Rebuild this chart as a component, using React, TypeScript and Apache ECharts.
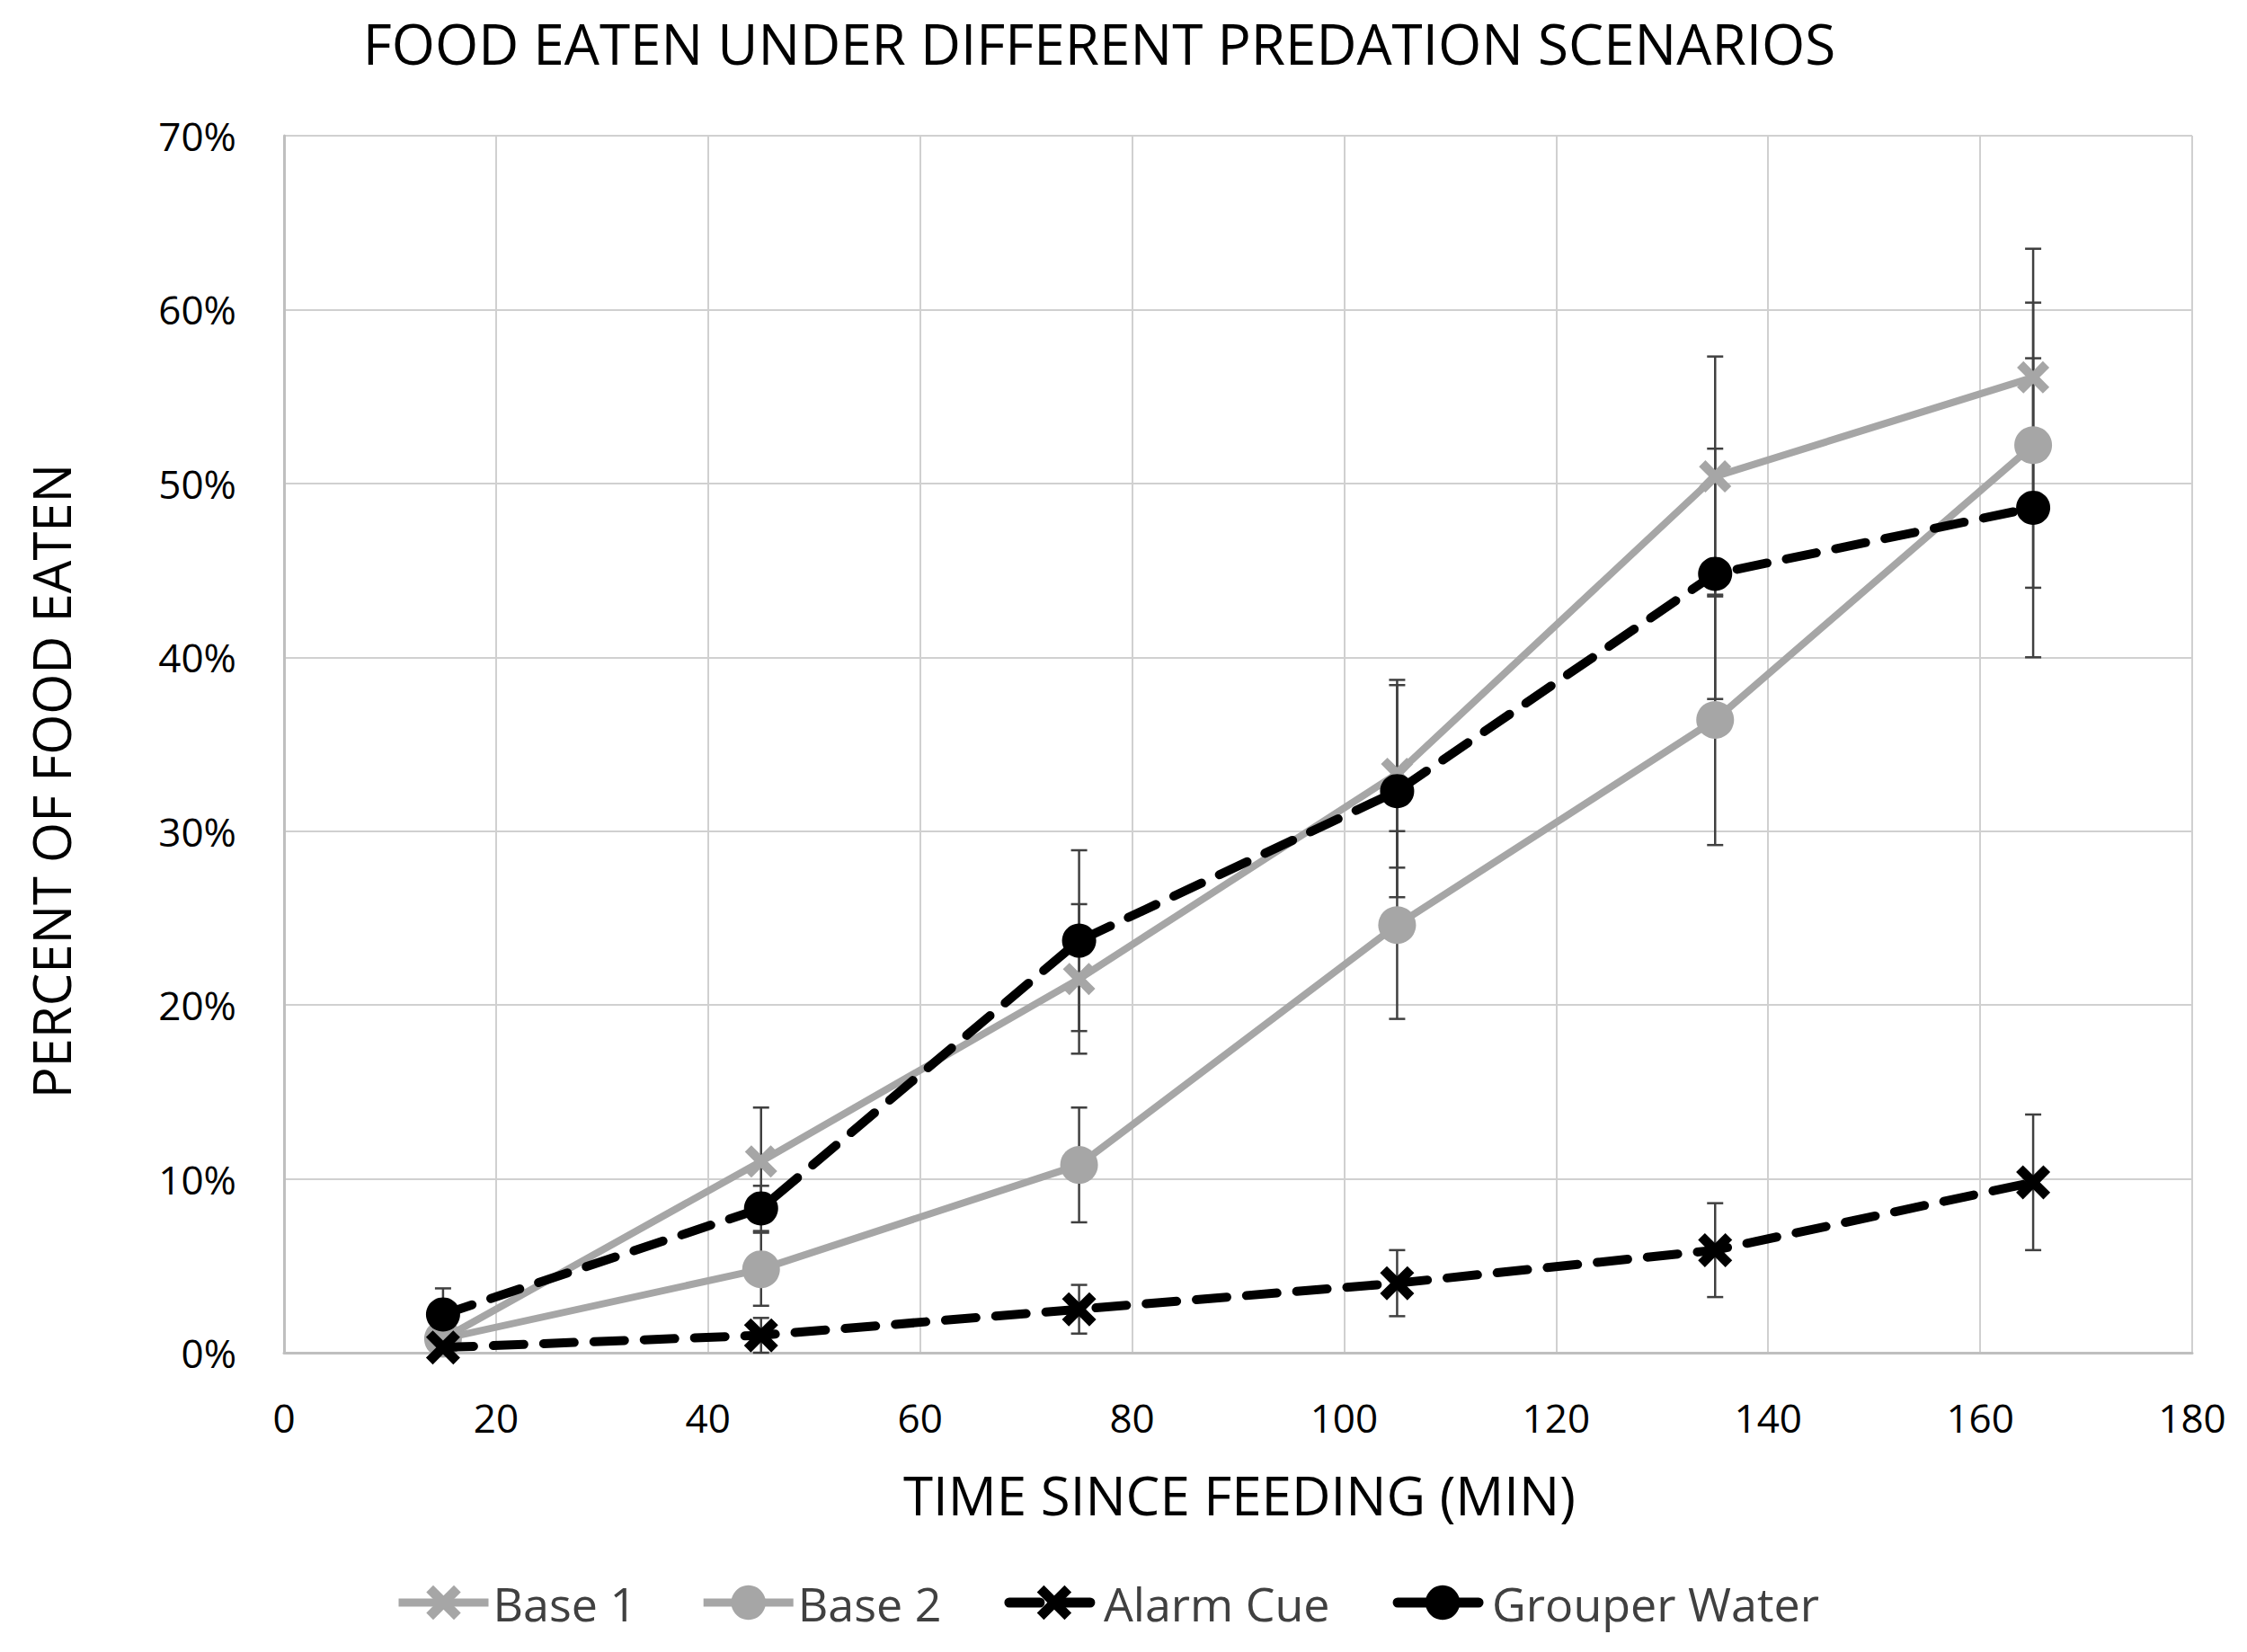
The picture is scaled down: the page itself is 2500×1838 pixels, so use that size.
import React, { useEffect, useRef } from "react";
import * as echarts from "echarts";

const xValues = [15, 45, 75, 105, 135, 165];
const base1 = [0.8, 11.0, 21.5, 33.3, 50.4, 56.1];
const base2 = [0.8, 4.8, 10.8, 24.6, 36.4, 52.2];
const alarm = [0.3, 1.0, 2.5, 4.0, 5.9, 9.8];
const grouper = [2.2, 8.3, 23.7, 32.3, 44.8, 48.6];

const base1Err = [0.5, 3.1, 4.3, 5.4, 6.9, 7.4];
const base2Err = [0.5, 2.1, 3.3, 5.4, 7.2, 8.2];
const alarmErr = [0.3, 1.0, 1.4, 1.9, 2.7, 3.9];
const grouperErr = [1.5, 1.3, 5.2, 6.1, 7.2, 8.6];

const seriesNames = ["Base 1", "Base 2", "Alarm Cue", "Grouper Water"];
const titleText = "FOOD EATEN UNDER DIFFERENT PREDATION SCENARIOS";
const xAxisTitle = "TIME SINCE FEEDING (MIN)";
const yAxisTitle = "PERCENT OF FOOD EATEN";

const GRAY = "#a6a6a6";
const BLACK = "#000000";
const FONT = "Open Sans";
const X_SYMBOL =
  "path://M2,0 L5,3 L8,0 L10,2 L7,5 L10,8 L8,10 L5,7 L2,10 L0,8 L3,5 L0,2 Z";

function errorSeries(vals: number[], errs: number[], z: number) {
  return {
    type: "custom",
    silent: true,
    z,
    data: xValues.map((x, i) => [x, vals[i] - errs[i], vals[i] + errs[i]]),
    renderItem: (_params: any, api: any) => {
      const x = api.value(0);
      const lo = api.coord([x, api.value(1)]);
      const hi = api.coord([x, api.value(2)]);
      const w = 9;
      const st = { stroke: "#404040", lineWidth: 2.5 };
      return {
        type: "group",
        children: [
          { type: "line", shape: { x1: lo[0], y1: lo[1], x2: hi[0], y2: hi[1] }, style: st },
          { type: "line", shape: { x1: lo[0] - w, y1: lo[1], x2: lo[0] + w, y2: lo[1] }, style: st },
          { type: "line", shape: { x1: hi[0] - w, y1: hi[1], x2: hi[0] + w, y2: hi[1] }, style: st },
        ],
      };
    },
  };
}

function pairs(vals: number[]) {
  return xValues.map((x, i) => [x, vals[i]]);
}

export default function App() {
  const ref = useRef<HTMLDivElement>(null);
  useEffect(() => {
    if (!ref.current) return;
    const chart = echarts.init(ref.current, null, { renderer: "svg" });
    const option: any = {
      animation: false,
      backgroundColor: "#ffffff",
      grid: { left: 316, right: 61, top: 151, bottom: 333, containLabel: false },
      xAxis: {
        type: "value",
        min: 0,
        max: 180,
        interval: 20,
        axisLine: { show: true, lineStyle: { color: "#bfbfbf", width: 3 } },
        axisTick: { show: false },
        axisLabel: { color: "#000", fontSize: 44, fontFamily: FONT, margin: 50 },
        splitLine: { show: true, lineStyle: { color: "#d0d0d0", width: 2 } },
      },
      yAxis: {
        type: "value",
        min: 0,
        max: 70,
        interval: 10,
        axisLine: { show: true, lineStyle: { color: "#bfbfbf", width: 3 } },
        axisTick: { show: false },
        axisLabel: {
          color: "#000",
          fontSize: 44,
          fontFamily: FONT,
          margin: 53,
          formatter: "{value}%",
        },
        splitLine: { show: true, lineStyle: { color: "#d0d0d0", width: 2 } },
      },
      legend: {
        data: [
          { name: seriesNames[0], lineStyle: { width: 9, color: GRAY } },
          { name: seriesNames[1], lineStyle: { width: 9, color: GRAY } },
          { name: seriesNames[2], lineStyle: { width: 11, color: BLACK } },
          { name: seriesNames[3], lineStyle: { width: 11, color: BLACK } },
        ],
        left: 434,
        top: 1752,
        itemWidth: 100,
        itemHeight: 48,
        itemGap: 70,
        textStyle: { fontSize: 52, fontFamily: FONT, color: "#404040" },
      },
      graphic: [
        {
          type: "text",
          x: 1223,
          y: 48,
          style: {
            text: titleText,
            fontSize: 62,
            fontFamily: FONT,
            fill: "#000",
            align: "center",
            verticalAlign: "middle",
          },
        },
        {
          type: "text",
          x: 1379,
          y: 1663,
          style: {
            text: xAxisTitle,
            fontSize: 60,
            fontFamily: FONT,
            fill: "#000",
            align: "center",
            verticalAlign: "middle",
          },
        },
        {
          type: "text",
          x: 56,
          y: 869,
          rotation: Math.PI / 2,
          style: {
            text: yAxisTitle,
            fontSize: 58,
            fontFamily: FONT,
            fill: "#000",
            align: "center",
            verticalAlign: "middle",
          },
        },
      ],
      series: [
        errorSeries(base1, base1Err, 1),
        errorSeries(base2, base2Err, 1),
        errorSeries(alarm, alarmErr, 1),
        errorSeries(grouper, grouperErr, 1),
        {
          name: seriesNames[0],
          type: "line",
          data: pairs(base1),
          symbol: X_SYMBOL,
          symbolSize: 36,
          lineStyle: { color: GRAY, width: 8 },
          itemStyle: { color: GRAY },
          z: 2,
        },
        {
          name: seriesNames[1],
          type: "line",
          data: pairs(base2),
          symbol: "circle",
          symbolSize: 42,
          lineStyle: { color: GRAY, width: 8 },
          itemStyle: { color: GRAY },
          z: 2,
        },
        {
          name: seriesNames[2],
          type: "line",
          data: pairs(alarm),
          symbol: X_SYMBOL,
          symbolSize: 38,
          lineStyle: { color: BLACK, width: 10, type: [34, 22], cap: "round" },
          itemStyle: { color: BLACK },
          z: 3,
        },
        {
          name: seriesNames[3],
          type: "line",
          data: pairs(grouper),
          symbol: "circle",
          symbolSize: 38,
          lineStyle: { color: BLACK, width: 10, type: [34, 22], cap: "round" },
          itemStyle: { color: BLACK },
          z: 3,
        },
      ],
    };
    chart.setOption(option);
    return () => chart.dispose();
  }, []);
  return (
    <div
      ref={ref}
      style={{ position: "fixed", left: 0, top: 0, width: 2500, height: 1838, background: "#fff" }}
    />
  );
}
